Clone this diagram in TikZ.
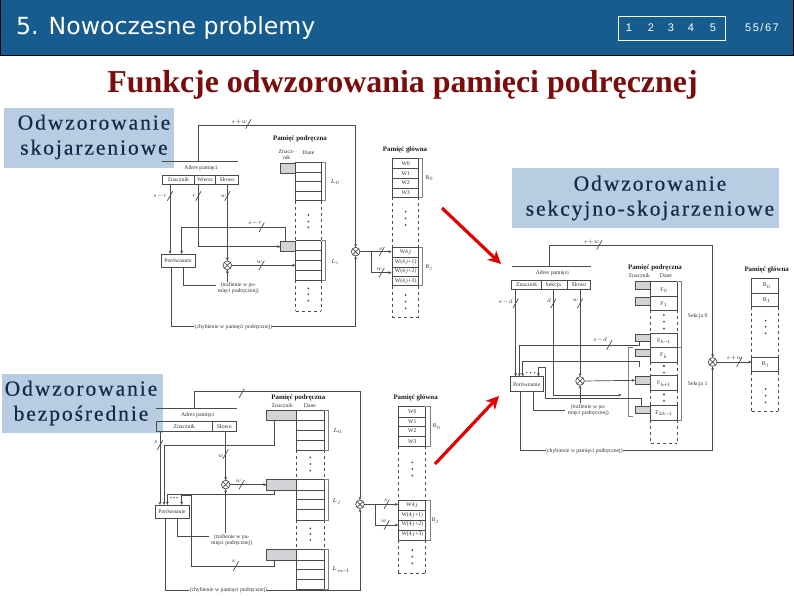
\documentclass[tikz,border=0pt]{standalone}
\usepackage{fontspec}
\setmainfont{Liberation Serif}
\newfontfamily\hdrfont{DejaVu Sans}
\newfontfamily\navfont{Liberation Sans}
\newfontfamily\pagefont[LetterSpace=14]{Liberation Sans}
\newfontfamily\capfont[LetterSpace=9,FakeBold=0.35]{Liberation Serif}
\usepackage{tikz}
\usetikzlibrary{arrows.meta,fit}
\definecolor{barblue}{HTML}{165C8F}
\definecolor{capblue}{HTML}{B8CCE2}
\definecolor{capink}{HTML}{0F2A4A}
\definecolor{maroon}{HTML}{7A0C0C}
\definecolor{wirec}{HTML}{4A4A4A}
\definecolor{tagc}{HTML}{D4D4D8}
\newcommand{\tick}[2]{\draw[wire] (#1-8,#2+14) -- (#1+8,#2-14);}
\newcommand{\memrows}[3]{%
  \foreach \yy in {#3} {\draw[wire] (#1,\yy) -- (#2,\yy);}
  \foreach \xx in {#1,#2} {\draw[wire] \foreach \yy [count=\nn] in {#3} {\ifnum\nn=1 (\xx,\yy)\else -- (\xx,\yy)\fi};}}
\newcommand{\memgap}[4]{\draw[wire,dashed] (#1,#3) -- (#1,#4) (#2,#3) -- (#2,#4);}
\newcommand{\memend}[3]{\draw[wire,dashed] (#1,#3) -- (#2,#3);}
\newcommand{\dotsv}[4]{\foreach \yy in {#2,#3,#4} {\fill[wirec] (#1,\yy) circle (1pt);}}
\newcommand{\bracket}[3]{\draw[wirec!70,line width=0.4pt] (#1-12,#2) -- (#1,#2) -- (#1,#3) -- (#1-12,#3);}
\begin{document}
\begin{tikzpicture}[
  x=1pt, y=-1pt, >={Stealth[length=3.4pt,width=2.8pt]},
  wire/.style={wirec,line width=0.7pt},
  txt/.style={inner sep=0pt,text=black!80,font=\fontsize{5.7}{6.2}\selectfont,align=center},
  ttl/.style={inner sep=0pt,text=black!90,font=\fontsize{6.9}{7.5}\selectfont\bfseries},
  fbox/.style={draw=wirec,line width=0.7pt,inner sep=0pt,outer sep=0pt},
  tagbox/.style={fbox,fill=tagc},
  mux/.style={circle,draw=wirec,line width=0.7pt,inner sep=0pt,outer sep=0pt,minimum size=8.6pt,
    path picture={\draw[wirec,line width=0.7pt] (path picture bounding box.north west) -- (path picture bounding box.south east)
      (path picture bounding box.north east) -- (path picture bounding box.south west);}},
  capbox/.style={fill=capblue,inner sep=0pt},
  captxt/.style={inner sep=0pt,text=capink,align=center,font=\fontsize{21.5}{25}\capfont},
  redarrow/.style={draw=red!88!black,line width=3.2pt,-{Stealth[length=13pt,width=13pt]}},
]
\useasboundingbox (0,0) rectangle (794,595);

% ===== header bar =====
\node[fill=barblue,draw=black,line width=1pt,inner sep=0pt,outer sep=0pt,fit={(0.5,-2)(793.5,55.5)}] (bar) {};
\node[anchor=west,inner sep=0pt,text=white,font=\fontsize{23.6}{26}\hdrfont] (sect) at (16,28) {5. Nowoczesne problemy};
\node[draw=white,line width=1pt,inner sep=0pt,fit={(618,16)(725,40)}] (nav) {};
\foreach \xx/\nn in {629/1,651/2,671/3,691/4,713/5}
  \node[inner sep=0pt,text=white,font=\fontsize{11}{12}\navfont] (nav\nn) at (\xx,28) {\nn};
\node[inner sep=0pt,text=white,font=\fontsize{11}{12}\pagefont] (page) at (762,28) {55/67};

% ===== title =====
\node[inner sep=0pt,text=maroon,font=\fontsize{31.9}{34}\bfseries\selectfont] (title) at (402.5,85) {Funkcje odwzorowania pamięci podręcznej};

% ===== caption backgrounds =====
\node[capbox,fit={(4,108)(174,168)}] (capA) {};
\node[capbox,fit={(512,168)(779,228)}] (capC) {};
\node[capbox,fit={(2,374)(163,433)}] (capB) {};

% ===== associative mapping =====
\begin{scope}[shift={(150,110)},x=0.3333pt,y=-0.3333pt]
\coordinate (busA) at (145,155); \coordinate (topA) at (145,45);
\coordinate (adrA1) at (60,222); \coordinate (adrA2) at (145,222); \coordinate (adrA3) at (232,222);
\draw[wire] (35,155) -- (265,155);
\node[txt] (adrtA) at (153,175) {Adres pamięci};
\node[fbox,fit={(37,195)(265,222)}] (adrA) {};
\draw[wire] (133,195) -- (133,222) (197,195) -- (197,222);
\node[txt] (adrtA1) at (85,209) {Znacznik};
\node[txt] (adrtA2) at (165,209) {Wiersz};
\node[txt] (adrtA3) at (231,209) {Słowo};
\node[fbox,txt,fit={(33,432)(135,472)}] (cmpA) {};
\node[txt] (cmptA) at (84,452) {Porównanie};
\node[mux] (muxA) at (232,466) {};
\node[mux] (memmuxA) at (617,425) {};
\node[tagbox,fit={(392,160)(437,190)}] (tagA1) {};
\node[tagbox,fit={(392,395)(437,425)}] (tagA2) {};
% cache
\memrows{437}{514}{157,186,215,244,272}
\memrows{437}{514}{392,422,451,480,510}
\memgap{437}{514}{272}{392}
\memgap{437}{514}{510}{603}
\memend{437}{514}{603}
\dotsv{475}{315}{335}{352}
\dotsv{475}{535}{553}{572}
\bracket{527}{157}{272}
\bracket{527}{392}{510}
\node[ttl] (cacheA) at (450,88) {Pamięć podręczna};
\node[txt] (znA) at (410,135) {Znacz-\\nik};
\node[txt] (daA) at (475,127) {Dane};
\node[txt] (L0A) at (555,217) {$L_0$};
\node[txt] (LiA) at (555,455) {$L_i$};
% main memory
\memrows{727}{806}{145,176,205,234,262}
\memrows{727}{806}{412,441,471,498,527}
\memgap{727}{806}{262}{412}
\memgap{727}{806}{527}{622}
\memend{727}{806}{622}
\dotsv{767}{305}{325}{345}
\dotsv{767}{555}{575}{595}
\bracket{818}{145}{262}
\bracket{818}{412}{527}
\node[ttl] (mainA) at (765,120) {Pamięć główna};
\foreach \yy/\ww [count=\nn] in {162/W0,190/W1,219/W2,248/W3,427/W4$j$,457/W(4$j$+1),484/W(4$j$+2),512/W(4$j$+3)}
  \node[txt] (wA\nn) at (767,\yy) {\ww};
\node[txt] (B0A) at (838,205) {B$_0$};
\node[txt] (BjA) at (838,472) {B$_j$};
% wires
\draw[wire,->] (busA) -- (topA) -| (memmuxA.north);
\draw[wire,->] (adrA1) -- (adrA1 |- cmpA.north);
\draw[wire,->] (adrA2) |- (tagA2.west);
\draw[wire,->] (adrA3) -- (muxA.north);
\coordinate (tagtopA) at (405,395); \coordinate (backA) at (95,352);
\draw[wire,->] (tagtopA) |- (backA) -- (backA |- cmpA.north);
\coordinate (dataA) at (437,466);
\draw[wire,->] (muxA.east) -- (dataA);
\node[txt] (hitA) at (265,535) {(trafienie w pa-\\mięci podręcznej)};
\coordinate (hitinA) at (197,525); \coordinate (hitupA) at (232,515); \coordinate (hitcA) at (100,472);
\draw[wire] (hitcA) |- (hitinA);
\draw[wire,->] (hitupA) -- (muxA.south);
\node[txt] (missA) at (250,650) {(chybienie w pamięci podręcznej)};
\coordinate (misscA) at (65,472);
\draw[wire] (misscA) |- (missA.west);
\draw[wire,->] (missA.east) -| (memmuxA.south);
\coordinate (outA1) at (725,425); \coordinate (outA2) at (725,488); \coordinate (forkA) at (665,425);
\draw[wire,->] (memmuxA.east) -- (outA1);
\draw[wire,->] (forkA) |- (outA2);
\tick{295}{42}\tick{60}{258}\tick{145}{258}\tick{232}{258}\tick{335}{352}\tick{335}{466}\tick{695}{425}\tick{695}{488}
\node[txt] (t1A) at (268,35) {$s\!+\!w$};
\node[txt] (t2A) at (30,258) {$s\!-\!r$};
\node[txt] (t3A) at (133,258) {$r$};
\node[txt] (t4A) at (220,258) {$w$};
\node[txt] (t5A) at (315,340) {$s\!-\!r$};
\node[txt] (t6A) at (328,457) {$w$};
\node[txt] (t7A) at (692,417) {$s$};
\node[txt] (t8A) at (688,478) {$w$};
\end{scope}

% ===== direct mapping =====
\begin{scope}[shift={(150,380)},x=0.3333pt,y=-0.3333pt]
\coordinate (busB) at (132,85); \coordinate (topB) at (132,33);
\coordinate (adrB1) at (30,155); \coordinate (adrB3) at (227,155);
\draw[wire] (18,85) -- (260,85);
\node[txt] (adrtB) at (143,104) {Adres pamięci};
\node[fbox,fit={(18,125)(260,155)}] (adrB) {};
\draw[wire] (187,125) -- (187,155);
\node[txt] (adrtB1) at (103,140) {Znacznik};
\node[txt] (adrtB3) at (223,140) {Słowo};
\node[fbox,fit={(15,375)(117,415)}] (cmpB) {};
\node[txt] (cmptB) at (66,396) {Porównanie};
\node[mux] (muxB) at (227,314) {};
\node[mux] (memmuxB) at (630,373) {};
\node[tagbox,fit={(350,90)(438,122)}] (tagB1) {};
\node[tagbox,fit={(350,298)(438,330)}] (tagB2) {};
\node[tagbox,fit={(350,507)(438,540)}] (tagB3) {};
% cache
\memrows{438}{522}{90,122,150,180,210}
\memrows{438}{522}{298,330,358,388,420}
\memrows{438}{522}{507,540,568,597,627}
\memgap{438}{522}{210}{298}
\memgap{438}{522}{420}{507}
\dotsv{481}{232}{252}{272}
\dotsv{481}{445}{462}{480}
\bracket{535}{90}{210}
\bracket{535}{298}{420}
\bracket{535}{507}{627}
\node[ttl] (cacheB) at (445,54) {Pamięć podręczna};
\node[txt] (znB) at (397,78) {Znacznik};
\node[txt] (daB) at (480,78) {Dane};
\node[txt] (L0B) at (563,152) {$L_0$};
\node[txt] (LjB) at (560,365) {$L_j$};
\node[txt] (LmB) at (573,570) {$L_{m\!-\!1}$};
% main memory
\memrows{745}{826}{80,112,140,170,198}
\memrows{745}{826}{360,390,420,450,480}
\memgap{745}{826}{198}{360}
\memgap{745}{826}{480}{580}
\memend{745}{826}{580}
\dotsv{787}{247}{267}{287}
\dotsv{787}{510}{530}{550}
\bracket{840}{80}{198}
\bracket{840}{360}{480}
\node[ttl] (mainB) at (797,54) {Pamięć główna};
\foreach \yy/\ww [count=\nn] in {96/W0,125/W1,153/W2,184/W3,375/W4$j$,404/W(4$j$+1),432/W(4$j$+2),462/W(4$j$+3)}
  \node[txt] (wB\nn) at (787,\yy) {\ww};
\node[txt] (B0B) at (860,140) {B$_0$};
\node[txt] (BjB) at (857,422) {B$_j$};
% wires
\draw[wire,->] (busB) -- (topB) -| (memmuxB.north);
\draw[wire,->] (adrB1) -- (adrB1 |- cmpB.north);
\coordinate (tap1B) at (372,122); \coordinate (bk1B) at (42,197);
\draw[wire,->] (tap1B) |- (bk1B) -- (bk1B |- cmpB.north);
\draw[wire,->] (adrB3) -- (muxB.north);
\draw[wire,->] (muxB.east) -- (tagB2.west);
\coordinate (tap2B) at (372,330); \coordinate (bk2B) at (52,342);
\draw[wire,->] (tap2B) |- (bk2B) -- (bk2B |- cmpB.north);
\coordinate (tap3B) at (372,540); \coordinate (bk3B) at (125,558); \coordinate (bk4B) at (95,346);
\draw[wire,->] (tap3B) |- (bk3B) |- (bk4B) -- (bk4B |- cmpB.north);
\foreach \xx in {63,72,81} {\fill[wirec] (\xx,353) circle (0.8pt);}
\node[txt] (hitB) at (245,480) {(trafienie w pa-\\mięci podręcznej)};
\coordinate (hitinB) at (178,468); \coordinate (hitupB) at (227,458); \coordinate (hitcB) at (82,415);
\draw[wire] (hitcB) |- (hitinB);
\draw[wire,->] (hitupB) -- (muxB.south);
\node[txt] (missB) at (235,631) {(chybienie w pamięci podręcznej)};
\coordinate (misscB) at (45,415);
\draw[wire] (misscB) |- (missB.west);
\draw[wire,->] (missB.east) -| (memmuxB.south);
\coordinate (outB1) at (745,373); \coordinate (outB2) at (745,435); \coordinate (forkB) at (677,373);
\draw[wire,->] (memmuxB.east) -- (outB1);
\draw[wire,->] (forkB) |- (outB2);
\tick{275}{40}\tick{30}{195}\tick{227}{222}\tick{275}{314}\tick{258}{558}\tick{710}{373}\tick{710}{435}
\node[txt] (t2B) at (18,188) {$s$};
\node[txt] (t4B) at (213,228) {$w$};
\node[txt] (t5B) at (265,303) {$w$};
\node[txt] (t6B) at (250,545) {$s$};
\node[txt] (t7B) at (707,362) {$s$};
\node[txt] (t8B) at (702,425) {$w$};
\end{scope}

% ===== set-associative mapping =====
\begin{scope}[shift={(500,230)},x=0.3333pt,y=-0.3333pt]
\coordinate (busC) at (147,110); \coordinate (topC) at (147,45);
\coordinate (adrC1) at (47,178); \coordinate (adrC2) at (160,178); \coordinate (adrC3) at (240,178);
\draw[wire] (35,110) -- (272,110);
\node[txt] (adrtC) at (157,128) {Adres pamięci};
\node[fbox,fit={(35,150)(272,178)}] (adrC) {};
\draw[wire] (123,150) -- (123,178) (203,150) -- (203,178);
\node[txt] (adrtC1) at (80,165) {Znacznik};
\node[txt] (adrtC2) at (160,165) {Sekcja};
\node[txt] (adrtC3) at (237,165) {Słowo};
\node[fbox,fit={(30,440)(130,485)}] (cmpC) {};
\node[txt] (cmptC) at (80,463) {Porównanie};
\node[mux] (muxC) at (240,453) {};
\node[mux] (memmuxC) at (638,396) {};
\foreach \ya/\yb [count=\nn] in {155/178,202/225,312/335,357/378,440/462,528/550}
  \node[tagbox,fit={(405,\ya)(450,\yb)}] (tagC\nn) {};
% cache
\memrows{452}{532}{155,200,240}
\memrows{452}{532}{310,353,397}
\memrows{452}{532}{437,480}
\memrows{452}{532}{525,570}
\memgap{452}{532}{240}{310}
\memgap{452}{532}{397}{437}
\memgap{452}{532}{480}{525}
\memgap{452}{532}{570}{640}
\memend{452}{532}{640}
\dotsv{492}{255}{275}{296}
\dotsv{492}{408}{408}{428}
\dotsv{492}{493}{493}{513}
\bracket{545}{155}{353}
\bracket{545}{353}{570}
\draw[wirec!70,line width=0.4pt] (400,353) -- (385,353) -- (385,560) -- (400,560);
\node[ttl] (cacheC) at (465,113) {Pamięć podręczna};
\node[txt] (znC) at (418,138) {Znacznik};
\node[txt] (daC) at (498,138) {Dane};
\foreach \yy/\ww [count=\nn] in {180/F$_0$,222/F$_1$,335/F$_{k\!-\!1}$,377/F$_k$,462/F$_{k\!+\!1}$,550/F$_{2k\!-\!1}$}
  \node[txt] (fC\nn) at (492,\yy) {\ww};
\node[txt] (s0C) at (593,257) {Sekcja 0};
\node[txt] (s1C) at (593,463) {Sekcja 1};
% main memory
\memrows{755}{835}{145,190,230}
\memrows{755}{835}{382,425}
\memgap{755}{835}{230}{382}
\memgap{755}{835}{425}{545}
\memend{755}{835}{545}
\dotsv{797}{272}{290}{310}
\dotsv{797}{477}{497}{517}
\node[ttl] (mainC) at (800,120) {Pamięć główna};
\node[txt] (b0C) at (800,167) {B$_0$};
\node[txt] (b1C) at (800,210) {B$_1$};
\node[txt] (bjC) at (797,403) {B$_j$};
% wires
\draw[wire,->] (busC) -- (topC) -| (memmuxC.north);
\draw[wire,->] (adrC1) -- (adrC1 |- cmpC.north);
\coordinate (sekC) at (365,495);
\draw[wire,->] (adrC2) |- (sekC);
\draw[wire,->] (adrC3) -- (muxC.north);
\draw[wire,->] (muxC.east) -- (tagC5.west);
\coordinate (tap1C) at (418,335); \coordinate (bk1C) at (58,345);
\draw[wire,->] (tap1C) |- (bk1C) -- (bk1C |- cmpC.north);
\coordinate (tap2C) at (418,410); \coordinate (bk2C) at (68,393);
\draw[wire,->] (tap2C) |- (bk2C) -- (bk2C |- cmpC.north);
\coordinate (tap3C) at (423,528); \coordinate (bk3C) at (135,505); \coordinate (bk4C) at (115,412);
\draw[wire,->] (tap3C) |- (bk3C) |- (bk4C) -- (bk4C |- cmpC.north);
\foreach \xx in {80,92,104} {\fill[wirec] (\xx,428) circle (0.8pt);}
\node[txt] (hitC) at (265,540) {(trafienie w pa-\\mięci podręcznej)};
\coordinate (hitinC) at (195,540); \coordinate (hitupC) at (240,518); \coordinate (hitcC) at (100,485);
\draw[wire] (hitcC) |- (hitinC);
\draw[wire,->] (hitupC) -- (muxC.south);
\node[txt] (missC) at (252,662) {(chybienie w pamięci podręcznej)};
\coordinate (misscC) at (62,485);
\draw[wire] (misscC) |- (missC.west);
\draw[wire,->] (missC.east) -| (memmuxC.south);
\coordinate (outC1) at (755,396);
\draw[wire,->] (memmuxC.east) -- (outC1);
\tick{298}{45}\tick{47}{220}\tick{160}{220}\tick{240}{220}\tick{328}{345}\tick{718}{396}
\node[txt] (t1C) at (275,35) {$s\!+\!w$};
\node[txt] (t2C) at (17,216) {$s\!-\!d$};
\node[txt] (t3C) at (147,212) {$d$};
\node[txt] (t4C) at (226,212) {$w$};
\node[txt] (t5C) at (300,331) {$s\!-\!d$};
\node[txt] (t6C) at (703,385) {$s\!+\!w$};
\end{scope}

% ===== captions =====
\node[captxt] (lblA) at (94,137) {Odwzorowanie\\skojarzeniowe};
\node[captxt] (lblB) at (81,403) {Odwzorowanie\\bezpośrednie};
\node[captxt] (lblC) at (650,198) {Odwzorowanie\\sekcyjno-skojarzeniowe};

% ===== red arrows =====
\coordinate (arrA) at (442,208); \coordinate (arrAe) at (501,264);
\coordinate (arrB) at (435,464); \coordinate (arrBe) at (499,396);
\draw[redarrow] (arrA) -- (arrAe);
\draw[redarrow] (arrB) -- (arrBe);
\end{tikzpicture}
\end{document}
